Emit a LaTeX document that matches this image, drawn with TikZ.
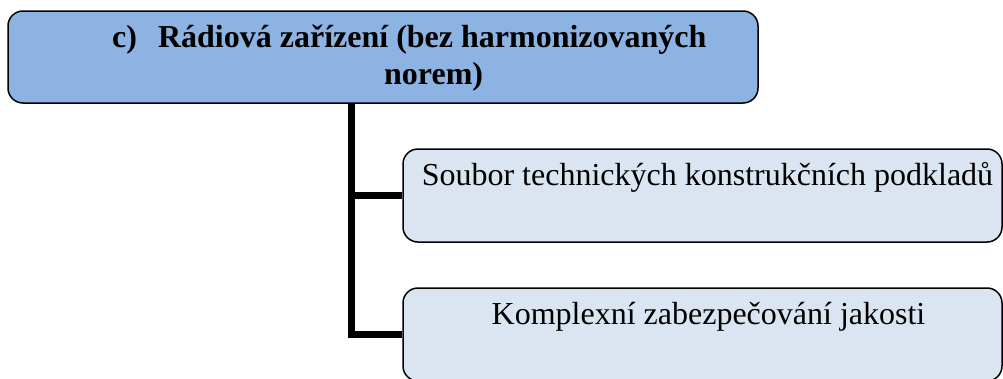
\documentclass[tikz,border=0pt]{standalone}
\usepackage{fontspec}
\setmainfont{Liberation Serif}
\definecolor{headblue}{RGB}{141,179,226}
\definecolor{leafblue}{RGB}{219,229,241}
\begin{document}
\begin{tikzpicture}[x=1pt,y=-1pt,
  headbox/.style={draw=black, line width=1.5pt, fill=headblue, rounded corners=15pt,
    inner sep=0pt, minimum width=750pt, minimum height=92pt},
  headtext/.style={inner sep=0pt, font=\fontsize{32}{38}\selectfont\bfseries},
  leafbox/.style={draw=black, line width=1.5pt, fill=leafblue, rounded corners=15pt,
    inner sep=0pt, minimum width=599pt, minimum height=93pt,
    text height=36pt, text depth=57pt, font=\fontsize{32}{38}\selectfont},
  trunk/.style={draw=black, line width=6.5pt}]
\useasboundingbox (0,0) rectangle (1003,378);

% heading box and its two lines of text
\node[headbox] (head) at (383,57) {};
\node[headtext, anchor=base west] (headA) at (112,47)
  {c)\hspace{21pt}Rádiová zařízení (bez harmonizovaných};
\node[headtext, anchor=base west] (headB) at (384,84) {norem)};

% child boxes
\node[leafbox] (box1) at (702.5,195.5) {\hspace*{10pt}Soubor technických konstrukčních podkladů};
\node[leafbox] (box2) at (702.5,334.5) {\hspace*{12pt}Komplexní zabezpečování jakosti};

% tree connectors
\coordinate (spine) at (351.5,0);
\draw[trunk] (head.south -| spine) |- (box2.west);
\draw[trunk] (box1.west -| spine) -- (box1.west);
\end{tikzpicture}
\end{document}
